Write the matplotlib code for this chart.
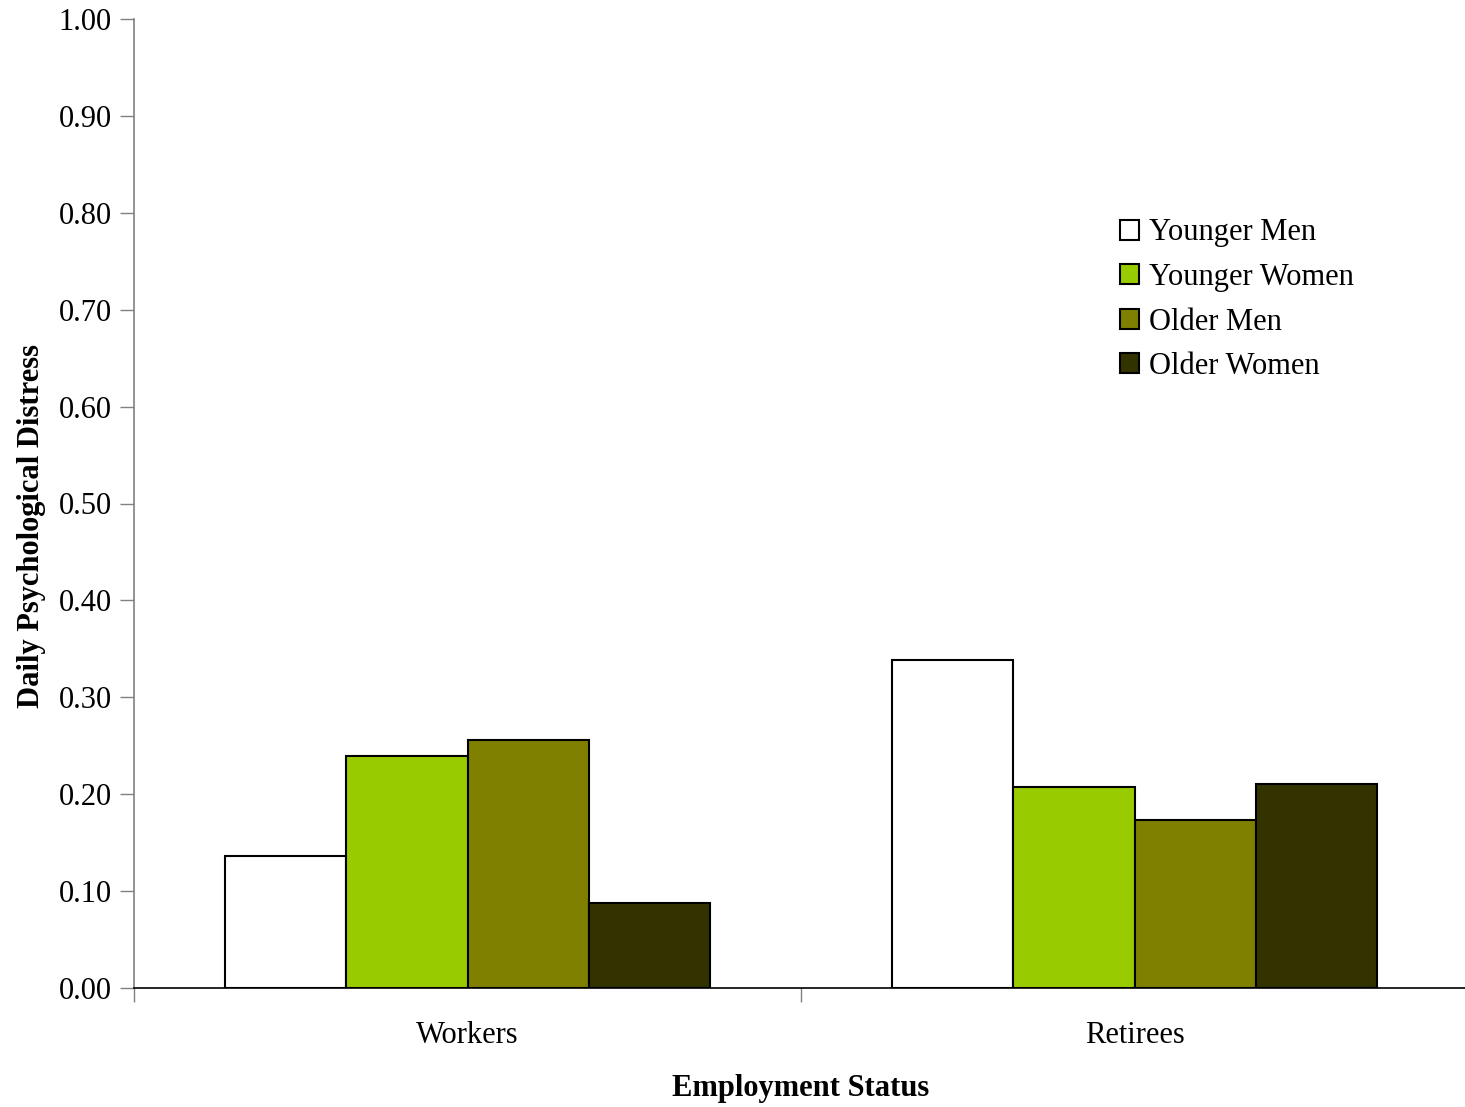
import numpy as np
import matplotlib.pyplot as plt
from matplotlib.patches import Patch

groups = ['Workers', 'Retirees']
series = ['Younger Men', 'Younger Women', 'Older Men', 'Older Women']
younger_men = [0.136, 0.338]
younger_women = [0.239, 0.207]
older_men = [0.256, 0.173]
older_women = [0.088, 0.211]
colors = ['#FFFFFF', '#99CC00', '#808000', '#333300']

plt.rcParams['font.family'] = ['Liberation Serif', 'DejaVu Serif']
fs = 22

fig = plt.figure(figsize=(14.65, 11.07), dpi=100)
ax = fig.add_axes([134 / 1465, 119 / 1107, 1334 / 1465, 969 / 1107])

x = np.arange(len(groups))
width = 0.182
values = [younger_men, younger_women, older_men, older_women]
for i, (vals, c) in enumerate(zip(values, colors)):
    ax.bar(x + (i - 1.5) * width, vals, width, color=c, edgecolor='black',
           linewidth=1.5, zorder=3)

ax.set_xlim(-0.5, 1.5)
ax.set_ylim(0, 1.0)
ax.set_yticks(np.arange(0, 1.01, 0.1))
ax.set_yticklabels([f'{v:.2f}' for v in np.arange(0, 1.01, 0.1)])
# group boundaries get the ticks, group names sit on minor ticks at the centres
ax.set_xticks([-0.5, 0.5, 1.5])
ax.set_xticklabels([])
ax.set_xticks(x, minor=True)
ax.set_xticklabels(groups, minor=True)
ax.tick_params(axis='x', which='minor', length=0, pad=24, labelsize=fs)
ax.tick_params(axis='x', which='major', length=10, width=1, color='#808080')
ax.tick_params(axis='y', length=10, width=1, color='#808080', labelsize=fs, pad=6)

ax.spines['top'].set_visible(False)
ax.spines['right'].set_visible(False)
ax.spines['left'].set_color('#808080')
ax.spines['left'].set_linewidth(1.2)
ax.spines['bottom'].set_color('black')
ax.spines['bottom'].set_linewidth(1.2)

ax.set_xlabel('Employment Status', fontsize=fs, fontweight='bold', labelpad=17)
ax.set_ylabel('Daily Psychological Distress', fontsize=fs, fontweight='bold', labelpad=9)
ax.yaxis.label.set_y(0.477)

handles = [Patch(facecolor=c, edgecolor='black', linewidth=1.5) for c in colors]
ax.legend(handles, series, loc='upper left', bbox_to_anchor=(0.728, 0.81),
          frameon=False, fontsize=fs, handlelength=0.62, handleheight=0.62,
          handletextpad=0.3, labelspacing=0.51, borderpad=0)

fig.savefig('out.png', dpi=100)
